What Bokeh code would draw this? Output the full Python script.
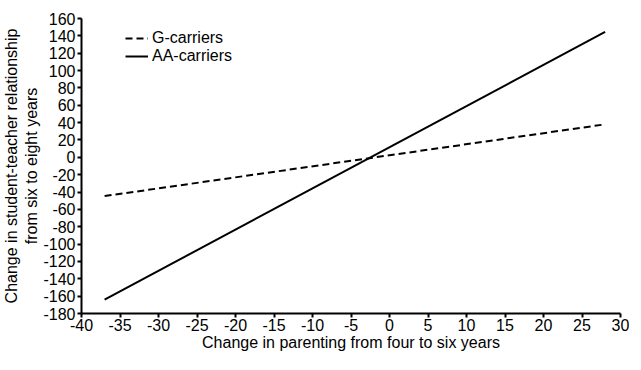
from bokeh.plotting import figure
from bokeh.models import Range1d, FixedTicker, Legend, LegendItem, CustomJSTickFormatter
from bokeh.embed import file_html
from bokeh.resources import INLINE

# data
x_vals = [-37, 28]
g_carriers = [-44.7, 38.0]
aa_carriers = [-164.0, 144.5]
x_ticks = list(range(-40, 31, 5))
y_ticks = list(range(-180, 161, 20))

FONT = "Liberation Sans"
FS = "16px"

p = figure(frame_width=539, frame_height=295, output_backend="svg", toolbar_location=None,
           x_range=Range1d(-40, 30), y_range=Range1d(-180, 160),
           min_border_left=77, min_border_right=9, min_border_top=18, min_border_bottom=0)
p.outline_line_color = None
p.xgrid.visible = False
p.ygrid.visible = False
p.background_fill_color = "white"
p.border_fill_color = "white"

g = p.line(x_vals, g_carriers, line_color="black", line_width=2, line_dash="7 4")
a = p.line(x_vals, aa_carriers, line_color="black", line_width=2)

fmt = CustomJSTickFormatter(code="return tick.toString();")
for ax in (p.xaxis[0], p.yaxis[0]):
    ax.axis_line_width = 2
    ax.axis_line_color = "black"
    ax.major_tick_line_width = 2
    ax.major_tick_line_color = "black"
    ax.major_tick_out = 4
    ax.major_tick_in = 0
    ax.minor_tick_line_color = None
    ax.formatter = fmt
    ax.major_label_text_font = FONT
    ax.major_label_text_font_size = FS
    ax.major_label_text_color = "black"
    ax.axis_label_text_font = FONT
    ax.axis_label_text_font_size = FS
    ax.axis_label_text_font_style = "normal"
    ax.axis_label_text_color = "black"

p.xaxis[0].ticker = FixedTicker(ticks=x_ticks)
p.yaxis[0].ticker = FixedTicker(ticks=y_ticks)
p.xaxis[0].axis_label = "Change in parenting from four to six years"
p.yaxis[0].axis_label = "Change in student-teacher relationship\nfrom six to eight years"
p.xaxis[0].major_label_standoff = 1
p.yaxis[0].major_label_standoff = 2
p.xaxis[0].axis_label_standoff = 0
p.yaxis[0].axis_label_standoff = 0

legend = Legend(items=[LegendItem(label="G-carriers", renderers=[g]),
                       LegendItem(label="AA-carriers", renderers=[a])],
                location=(44, 248))
legend.border_line_color = None
legend.background_fill_alpha = 0
legend.label_text_font = FONT
legend.label_text_font_size = FS
legend.label_text_color = "black"
legend.glyph_width = 23
legend.label_standoff = 4
legend.padding = 0
legend.spacing = 0
legend.label_height = 18
legend.glyph_height = 18
legend.margin = 0
p.add_layout(legend, "center")

open("out.html", "w").write(file_html(p, INLINE))
